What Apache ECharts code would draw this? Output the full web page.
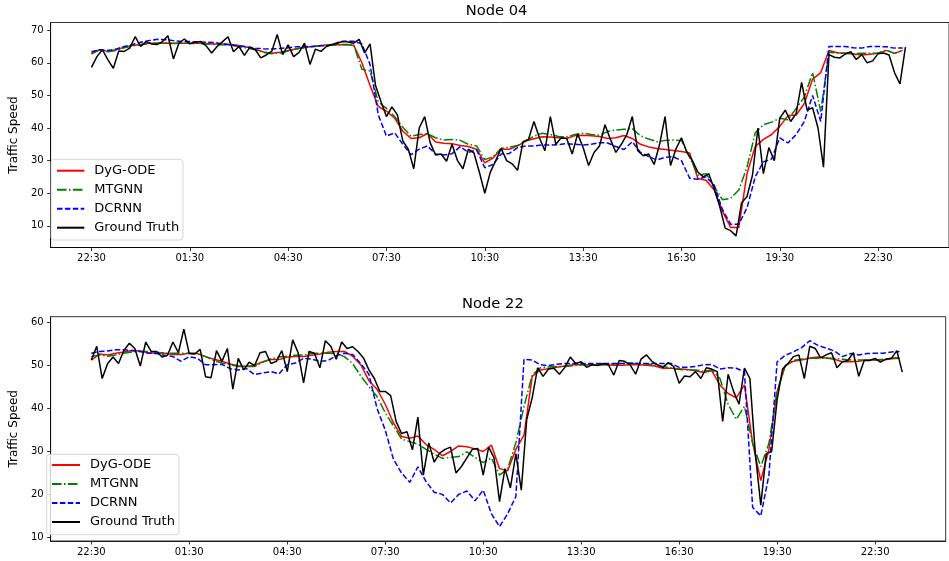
<!DOCTYPE html>
<html>
<head>
<meta charset="utf-8">
<script src="https://cdn.jsdelivr.net/npm/echarts@6/dist/echarts.min.js"></script>
<style>
  html, body { margin: 0; padding: 0; background: #ffffff; }
  #chart { width: 949px; height: 561px; }
</style>
</head>
<body>
<div id="chart"></div>
<script>
// Time-of-day tick labels, one every 36 five-minute steps (3 hours)
const timeLabels = ['22:30', '01:30', '04:30', '07:30', '10:30', '13:30', '16:30', '19:30', '22:30'];
const TICK_EVERY = 36;
// Ground truth is sampled every 2 steps (10 min), model outputs every 3 steps (15 min)
const TRUTH_STEP = 2;
const PRED_STEP = 3;

const seriesNames = ['DyG-ODE', 'MTGNN', 'DCRNN', 'Ground Truth'];

// ---- Node 04 ----
const node04Truth = [
  58.6, 61.9, 64.0, 61.0, 58.3, 63.6, 63.5, 64.5, 68.0, 65.0,
  66.5, 65.8, 65.6, 66.5, 68.3, 61.2, 66.0, 67.3, 65.8, 66.3,
  66.5, 65.2, 63.0, 65.0, 66.5, 68.0, 63.4, 65.0, 62.3, 64.8,
  64.0, 61.5, 62.4, 63.5, 68.7, 62.5, 65.5, 61.9, 63.2, 66.0,
  59.5, 64.2, 63.5, 65.0, 65.6, 66.0, 66.6, 66.4, 66.0, 67.2,
  63.0, 65.8, 53.0, 48.1, 43.5, 46.5, 44.0, 36.0, 33.5, 27.5,
  40.0, 43.5, 35.5, 31.7, 32.0, 29.8, 35.0, 30.0, 27.5, 33.5,
  32.4, 26.5, 20.0, 26.4, 30.0, 33.7, 30.0, 29.0, 27.0, 35.8,
  36.5, 42.0, 37.0, 33.0, 43.5, 35.0, 37.0, 36.8, 32.0, 38.2,
  34.0, 28.5, 32.5, 34.5, 41.0, 36.5, 32.5, 35.0, 38.0, 43.5,
  33.0, 31.5, 32.0, 28.8, 35.0, 43.5, 28.5, 33.6, 37.0, 32.5,
  30.0, 26.5, 25.0, 26.0, 21.3, 16.0, 9.3, 8.5, 6.9, 17.0,
  19.0, 25.5, 40.0, 26.0, 34.0, 30.0, 43.0, 45.5, 42.0, 44.5,
  54.0, 45.5, 46.2, 40.0, 28.0, 62.5, 61.7, 61.5, 62.7, 63.4,
  61.0, 62.5, 60.0, 60.6, 62.8, 63.0, 62.4, 57.0, 53.5, 64.8
];
const node04DyG = [
  62.7, 64.0, 63.5, 64.0, 64.8, 65.3, 65.6, 66.0, 66.0, 66.1,
  66.0, 66.0, 66.0, 66.0, 65.9, 65.8, 65.8, 65.6, 65.3, 64.8,
  64.2, 63.3, 62.9, 63.2, 63.8, 64.3, 64.8, 65.0, 65.3, 65.5,
  65.5, 65.6, 65.4, 60.0, 53.0, 46.6, 45.2, 43.0, 39.0, 36.8,
  37.0, 38.3, 35.7, 35.3, 35.2, 34.6, 34.3, 33.5, 29.3, 30.8,
  33.5, 33.5, 34.5, 36.0, 36.7, 37.3, 37.2, 37.0, 36.8, 37.7,
  37.8, 37.6, 37.4, 36.8, 37.0, 37.7, 36.8, 35.0, 34.2, 33.7,
  33.4, 33.1, 32.8, 32.3, 24.5, 24.0, 21.0, 14.5, 9.5, 9.5,
  26.0, 34.3, 36.5, 38.0, 40.5, 43.8, 44.0, 47.5, 55.0, 57.0,
  63.8, 63.1, 62.9, 62.7, 62.4, 62.6, 62.9, 63.8, 62.9, 63.8
];
const node04MTGNN = [
  63.1, 64.0, 63.4, 63.8, 64.6, 65.2, 65.5, 65.9, 66.0, 66.0,
  65.9, 66.0, 66.0, 65.9, 65.8, 65.6, 65.5, 65.4, 65.0, 64.5,
  64.0, 63.2, 62.8, 63.0, 63.6, 64.2, 64.6, 65.0, 65.2, 65.4,
  65.5, 65.6, 65.5, 58.0, 57.5, 48.0, 46.0, 43.5, 40.2, 37.5,
  38.0, 38.2, 37.0, 36.3, 36.5, 36.2, 35.0, 34.5, 30.3, 31.2,
  33.8, 34.1, 34.6, 36.0, 37.5, 38.4, 38.0, 37.4, 37.3, 38.0,
  38.4, 38.0, 37.8, 38.9, 39.4, 39.6, 39.8, 37.6, 36.6, 35.8,
  36.2, 36.3, 36.2, 31.0, 25.5, 26.0, 22.0, 18.0, 18.4, 21.0,
  28.0, 38.5, 41.0, 41.8, 43.0, 42.5, 46.0, 49.5, 57.0, 45.0,
  63.2, 63.0, 62.9, 62.8, 62.9, 62.9, 63.0, 63.9, 62.9, 63.8
];
const node04DCRNN = [
  63.4, 64.0, 63.8, 64.2, 65.0, 65.6, 66.3, 66.8, 67.2, 67.1,
  66.8, 66.5, 66.5, 66.4, 66.3, 66.2, 65.8, 65.5, 65.2, 64.9,
  64.5, 64.3, 64.2, 64.4, 64.6, 64.9, 65.0, 65.0, 65.2, 65.3,
  66.2, 66.6, 66.6, 65.8, 59.5, 44.0, 37.5, 38.5, 35.0, 31.8,
  33.5, 34.5, 32.0, 31.7, 32.1, 34.3, 32.5, 33.3, 27.8, 28.8,
  32.0, 32.2, 34.0, 34.5, 34.5, 34.8, 34.8, 34.9, 35.2, 35.0,
  34.8, 35.0, 35.5, 35.4, 34.3, 33.4, 35.8, 32.5, 31.2, 30.2,
  31.0, 31.2, 30.0, 24.6, 24.3, 25.0, 22.5, 15.0, 10.5, 10.5,
  15.5, 25.0, 29.6, 30.5, 37.0, 35.4, 38.0, 42.0, 50.0, 42.0,
  65.0, 65.0, 65.0, 64.6, 64.5, 65.0, 65.0, 64.9, 64.5, 64.5
];

// ---- Node 22 ----
const node22Truth = [
  51.3, 54.5, 47.0, 50.5, 52.0, 50.5, 53.6, 55.2, 54.0, 49.9,
  55.5, 53.3, 53.3, 52.0, 52.4, 55.5, 53.0, 58.5, 52.8, 52.7,
  53.8, 47.4, 47.2, 53.5, 51.0, 54.0, 44.5, 51.7, 49.0, 50.8,
  50.0, 53.0, 53.3, 50.5, 51.0, 53.5, 48.6, 56.0, 53.0, 46.0,
  53.3, 52.9, 49.5, 55.8, 54.5, 51.5, 55.5, 54.0, 54.4, 53.3,
  51.8, 49.0, 47.0, 44.0, 44.0, 43.0, 37.0, 34.2, 34.6, 30.4,
  38.0, 24.5, 32.0, 27.5, 29.6, 30.5, 31.0, 25.0, 26.5, 28.5,
  30.5, 30.7, 24.5, 31.0, 28.5, 18.3, 26.0, 21.5, 29.5, 21.0,
  37.5, 42.5, 49.5, 47.5, 49.2, 49.4, 48.0, 49.6, 52.0, 50.5,
  50.9, 49.6, 50.2, 50.0, 50.5, 50.2, 47.8, 51.2, 51.0, 50.2,
  48.0, 51.5, 52.5, 51.0, 50.2, 49.6, 50.7, 49.8, 45.9, 47.6,
  47.4, 48.6, 47.0, 49.5, 49.2, 48.6, 37.0, 48.0, 44.0, 41.0,
  49.4, 47.0, 29.5, 17.5, 29.5, 30.0, 42.0, 49.2, 50.5, 52.1,
  52.5, 47.0, 54.5, 54.0, 51.8, 52.5, 53.0, 49.5, 50.9, 51.2,
  53.0, 47.5, 51.2, 51.2, 51.7, 50.8, 51.5, 51.7, 53.5, 48.5
];
const node22DyG = [
  51.3, 52.7, 52.5, 52.9, 53.2, 53.5, 53.4, 53.0, 52.9, 52.9,
  52.6, 52.6, 52.9, 52.8, 52.1, 51.5, 51.0, 50.4, 50.0, 49.8,
  50.1, 50.9, 51.4, 51.4, 52.0, 52.1, 52.1, 52.4, 52.7, 53.1,
  53.3, 53.3, 52.2, 50.2, 46.5, 44.5, 41.0, 36.7, 33.5, 33.1,
  33.6, 31.6, 30.5, 29.0, 30.0, 31.3, 31.1, 30.6, 30.0, 31.5,
  26.0, 25.5, 30.5, 33.8, 47.5, 49.0, 49.3, 49.6, 49.9, 50.2,
  50.2, 50.2, 50.2, 50.2, 50.1, 50.1, 50.2, 50.2, 50.1, 49.9,
  49.4, 49.4, 49.3, 49.1, 48.8, 48.4, 48.8, 45.5, 43.5, 42.5,
  45.5, 32.0, 23.2, 30.5, 44.0, 50.0, 51.0, 51.3, 51.8, 52.0,
  51.8, 51.5, 50.9, 50.9, 51.0, 51.3, 51.3, 51.3, 51.6, 51.7
];
const node22MTGNN = [
  52.1, 52.5, 52.2, 52.5, 52.9, 53.2, 53.3, 53.3, 53.1, 52.9,
  52.9, 52.9, 52.9, 52.8, 52.1, 51.2, 50.6, 50.2, 49.8, 49.8,
  49.8, 50.8, 51.6, 52.0, 52.2, 52.4, 52.5, 52.8, 52.9, 52.9,
  52.8, 52.1, 50.5, 47.6, 45.1, 42.8, 39.0, 36.0, 32.9, 32.3,
  31.7, 30.5, 29.4, 28.4, 28.6, 28.8, 29.9, 28.6, 27.4, 28.5,
  24.5, 26.0, 32.0, 40.5, 47.8, 49.5, 49.7, 49.8, 49.8, 50.0,
  50.2, 50.2, 50.2, 50.2, 50.4, 50.5, 50.5, 50.5, 50.4, 50.2,
  49.8, 49.4, 49.1, 49.0, 49.0, 48.7, 49.0, 47.0, 41.0, 37.5,
  40.5, 31.9, 26.5, 31.9, 44.0, 50.0, 51.2, 51.5, 51.7, 51.7,
  51.7, 51.7, 51.5, 51.3, 51.3, 51.3, 51.3, 51.5, 51.7, 51.9
];
const node22DCRNN = [
  52.9, 53.3, 53.4, 53.7, 53.7, 53.5, 53.3, 52.9, 52.8, 52.4,
  52.1, 51.0, 52.1, 51.7, 50.2, 50.2, 50.3, 49.3, 49.0, 49.3,
  47.9, 48.3, 48.6, 48.1, 50.2, 50.6, 51.7, 51.5, 51.0, 51.2,
  52.3, 52.9, 52.6, 50.5, 48.0, 40.0, 35.0, 28.2, 25.0, 22.8,
  26.4, 23.0, 20.5, 20.0, 18.0, 20.0, 20.8, 18.5, 21.0, 15.5,
  12.5, 15.5, 19.5, 51.5, 51.3, 50.2, 50.0, 50.3, 50.5, 50.5,
  50.5, 50.5, 50.5, 50.5, 50.5, 50.5, 50.6, 50.5, 50.5, 50.5,
  50.5, 50.5, 49.6, 49.6, 49.8, 50.2, 50.3, 49.2, 49.5, 49.4,
  48.5, 17.0, 15.0, 24.5, 50.9, 52.4, 53.2, 54.2, 55.8, 54.7,
  54.1, 53.4, 52.1, 52.8, 52.5, 52.8, 52.9, 52.9, 53.2, 53.3
];

// Y tick values for each panel
const node04YTicks = [10, 20, 30, 40, 50, 60, 70];
const node22YTicks = [10, 20, 30, 40, 50, 60];

const FONT = 'DejaVu Sans';
const styles = {
  'DyG-ODE':      { color: '#ff0000', type: 'solid' },
  'MTGNN':        { color: '#008000', type: [9.6, 2.4, 1.5, 2.4] },
  'DCRNN':        { color: '#0000ff', type: [5.5, 2.4] },
  'Ground Truth': { color: '#000000', type: 'solid' }
};

function toPairs(values, step) {
  return values.map((v, k) => [k * step, v]);
}

function panelSeries(panel, truth, dyg, mtgnn, dcrnn) {
  const sets = [
    ['DyG-ODE', dyg, PRED_STEP],
    ['MTGNN', mtgnn, PRED_STEP],
    ['DCRNN', dcrnn, PRED_STEP],
    ['Ground Truth', truth, TRUTH_STEP]
  ];
  return sets.map(([name, vals, step]) => ({
    name: name,
    type: 'line',
    xAxisIndex: panel,
    yAxisIndex: panel,
    data: toPairs(vals, step),
    symbol: 'circle',
    symbolSize: 0,
    showSymbol: false,
    smooth: false,
    clip: true,
    silent: true,
    lineStyle: { color: styles[name].color, width: 1.5, type: styles[name].type },
    itemStyle: { color: styles[name].color },
    emphasis: { disabled: true }
  }));
}

const xTickValues = timeLabels.map((_, k) => k * TICK_EVERY);

function makeXAxis(panel) {
  return {
    type: 'value',
    gridIndex: panel,
    min: -14.95,
    max: 313.95,
    splitLine: { show: false },
    axisLine: { show: true, onZero: false, lineStyle: { color: '#000', width: 0.8 } },
    axisTick: { show: true, customValues: xTickValues, length: 3.5, lineStyle: { color: '#000', width: 0.8 } },
    axisLabel: {
      customValues: xTickValues,
      formatter: v => timeLabels[Math.round(v / TICK_EVERY)],
      fontSize: 10, color: '#000', fontFamily: FONT, margin: 6
    }
  };
}

function makeYAxis(panel, min, max, ticks) {
  return {
    type: 'value',
    gridIndex: panel,
    min: min,
    max: max,
    name: 'Traffic Speed',
    nameLocation: 'middle',
    nameGap: 23,
    nameTextStyle: { fontSize: 12, color: '#000', fontFamily: FONT },
    splitLine: { show: false },
    axisLine: { show: true, onZero: false, lineStyle: { color: '#000', width: 0.8 } },
    axisTick: { show: true, customValues: ticks, length: 3.5, lineStyle: { color: '#000', width: 0.8 } },
    axisLabel: { customValues: ticks, fontSize: 10, color: '#000', fontFamily: FONT, margin: 7 }
  };
}

function makeLegend(left, top, padding, itemWidth) {
  return {
    data: seriesNames,
    orient: 'vertical',
    left: left,
    top: top,
    itemWidth: itemWidth,
    itemHeight: 14,
    itemGap: 5,
    padding: padding,
    selectedMode: false,
    backgroundColor: 'rgba(255,255,255,0.8)',
    borderColor: '#cccccc',
    borderWidth: 0.8,
    borderRadius: 3,
    // line samples only, no marker in the middle
    itemStyle: { opacity: 0 },
    lineStyle: { opacity: 1 },
    textStyle: { fontSize: 13, color: '#000', fontFamily: FONT, lineHeight: 14, padding: [0, 0, 0, 5] }
  };
}

const chart = echarts.init(document.getElementById('chart'), null, { renderer: 'canvas' });
chart.setOption({
  animation: false,
  backgroundColor: '#ffffff',
  title: [
    { text: 'Node 04', left: 496.6, top: 3.5, padding: 0, textAlign: 'center',
      textStyle: { fontSize: 14.7, fontWeight: 'normal', color: '#000', fontFamily: FONT } },
    { text: 'Node 22', left: 492.9, top: 297, padding: 0, textAlign: 'center',
      textStyle: { fontSize: 14.7, fontWeight: 'normal', color: '#000', fontFamily: FONT } }
  ],
  grid: [
    { left: 44.2, top: 22.5, width: 905, height: 225, show: true, borderColor: '#000', borderWidth: 0.8, backgroundColor: 'transparent' },
    { left: 40, top: 316.7, width: 905.7, height: 224.3, show: true, borderColor: '#000', borderWidth: 0.8, backgroundColor: 'transparent' }
  ],
  xAxis: [makeXAxis(0), makeXAxis(1)],
  yAxis: [
    makeYAxis(0, 3.34, 72.36, node04YTicks),
    makeYAxis(1, 9.14, 61.4, node22YTicks)
  ],
  legend: [
    makeLegend(51, 159.3, [4.4, 3.7, 5.3, 5], 27.3),
    makeLegend(46.7, 454.3, [3.7, 4, 5.7, 4.3], 28)
  ],
  series: [
    ...panelSeries(0, node04Truth, node04DyG, node04MTGNN, node04DCRNN),
    ...panelSeries(1, node22Truth, node22DyG, node22MTGNN, node22DCRNN)
  ]
});
</script>
</body>
</html>
